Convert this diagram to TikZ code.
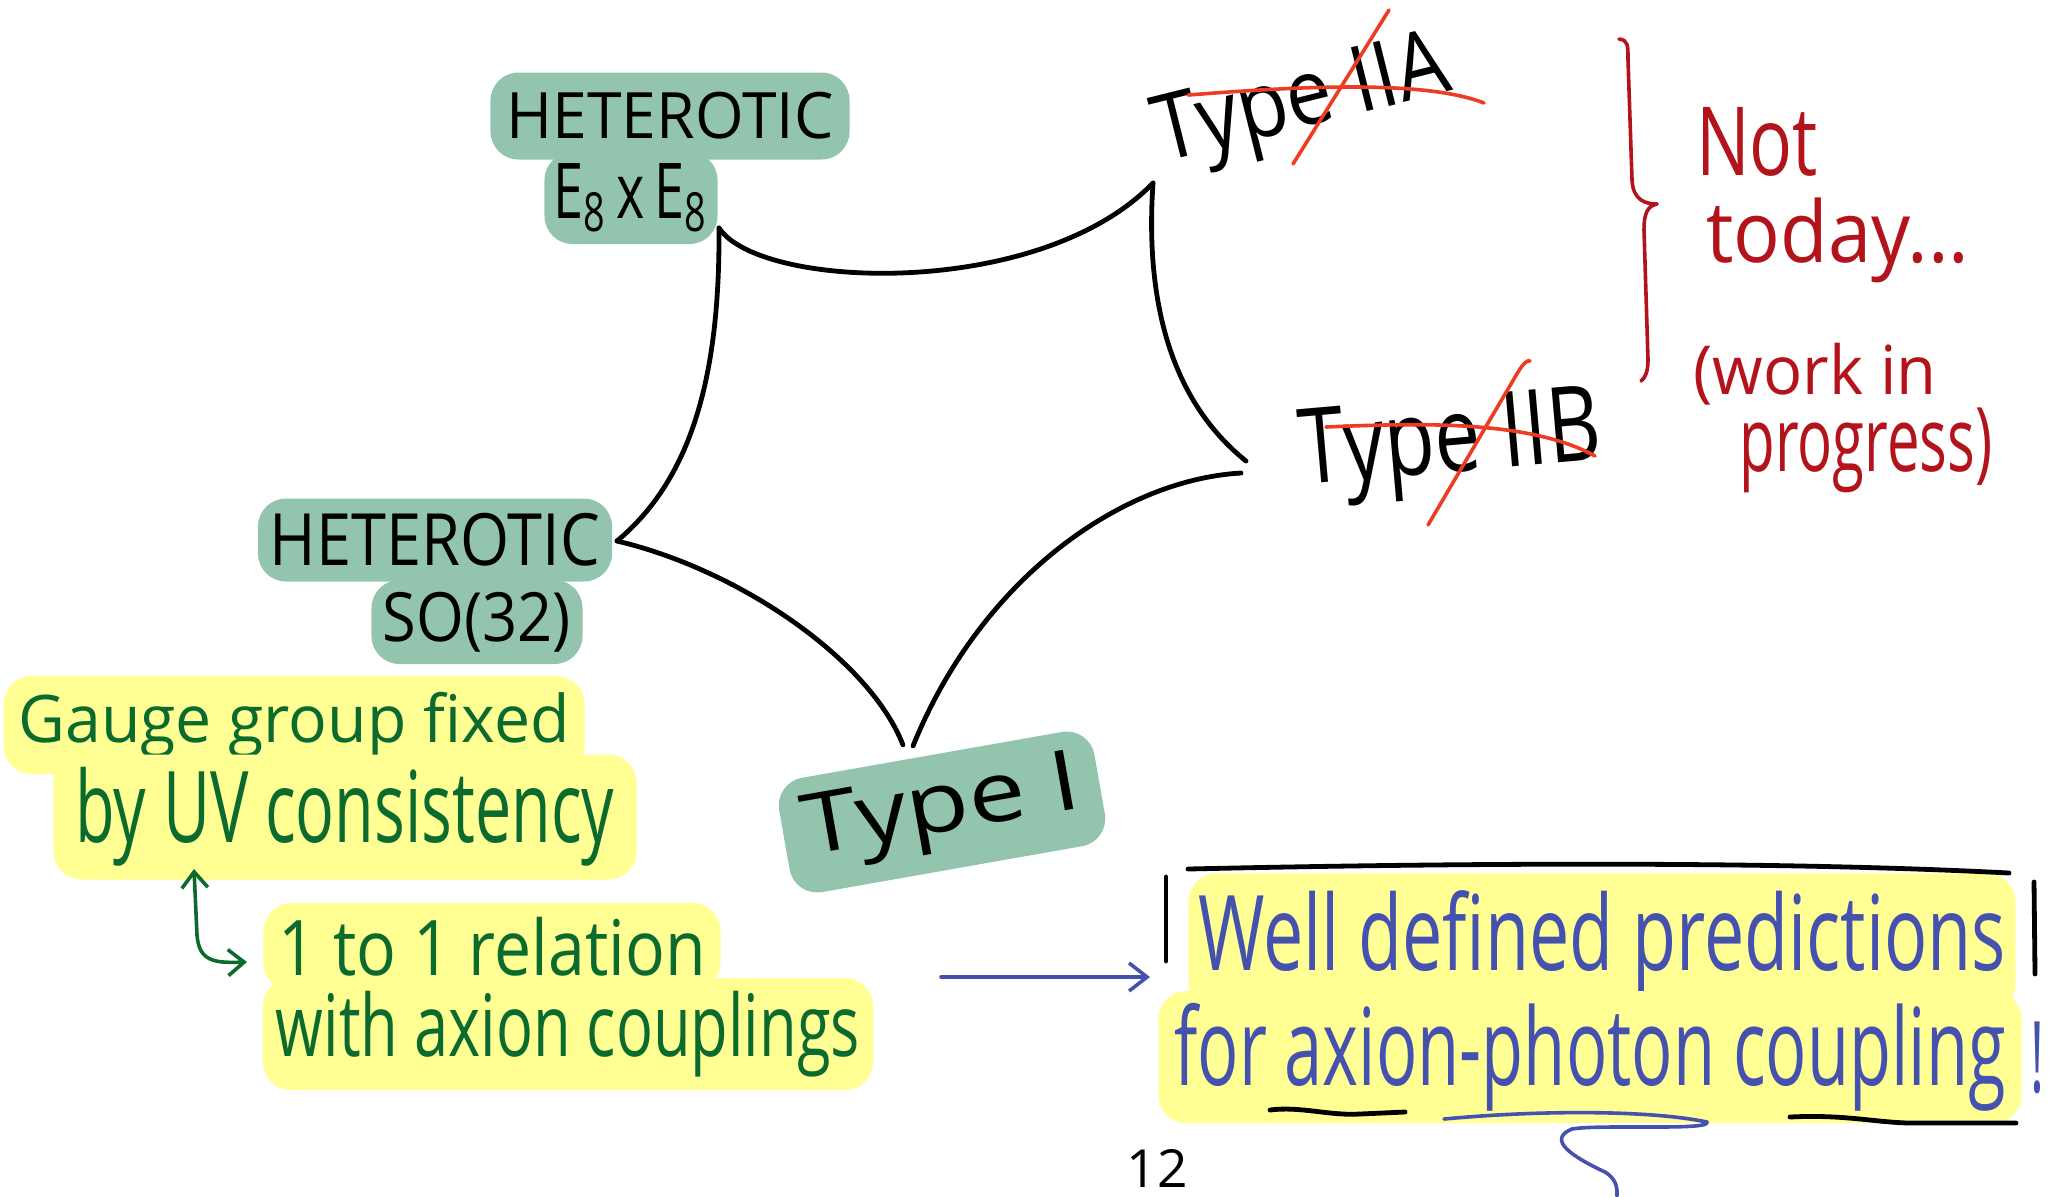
\documentclass[tikz,border=0pt]{standalone}
\usepackage{fontspec}
\setmainfont{Open Sans}
\usepackage{graphicx}
\usetikzlibrary{arrows.meta}
\definecolor{hlgreen}{HTML}{93C5AE}
\definecolor{hlyellow}{HTML}{FFFF94}
\definecolor{txtgreen}{HTML}{0B6B2E}
\definecolor{txtblue}{HTML}{4451AE}
\definecolor{txtred}{HTML}{B3131B}
\definecolor{strikered}{HTML}{EE3B24}
\newdimen\hpx \hpx=0.5pt
\newcommand{\fit}[3]{\resizebox*{#1\hpx}{#2\hpx}{#3}}
\begin{document}
\begin{tikzpicture}[x=0.5pt,y=-0.5pt,
  hg/.style={fill=hlgreen, rounded corners=14pt, inner sep=0pt},
  hy/.style={fill=hlyellow, rounded corners=14pt, inner sep=0pt},
  plain/.style={inner sep=0pt},
  ink/.style={line width=2.4pt, line cap=round, line join=round},
  strike/.style={strikered, line width=1.8pt, line cap=round},
  redpen/.style={txtred, line width=1.8pt, line cap=round, line join=round},
  bluepen/.style={txtblue, line width=1.8pt, line cap=round, line join=round},
  greenpen/.style={txtgreen, line width=1.8pt, line cap=round, line join=round},
  barb/.style={-{Straight Barb[length=9pt,width=14pt]}}]
\useasboundingbox (0,0) rectangle (2059,1196);

% ---- heterotic E8xE8
\node[hg, inner xsep=8pt, inner ysep=10pt] (hetA) at (670,116) {\fit{327}{47}{HETEROTIC}};
\node[hg, inner xsep=4.5pt, inner ysep=6pt] (e8) at (631,198) {\fit{155}{68}{E\textsubscript{8}\,x\,E\textsubscript{8}}};

% ---- heterotic SO(32)
\node[hg, inner xsep=6pt, inner ysep=7.5pt] (hetB) at (435,540) {\fit{330}{53}{HETEROTIC}};
\node[hg, inner xsep=5.75pt, inner ysep=6pt] (so) at (477,622) {\fit{188}{60}{SO(32)}};

% ---- Type I
\node[hg, inner xsep=10pt, inner ysep=9pt, rotate=10] (t1) at (942,812) {\fit{280}{80}{Type I}};

% ---- Type IIA / IIB (struck out)
\node[plain, rotate=14] (t2a) at (1303,105) {\fit{300}{88}{Type IIA}};
\node[plain, rotate=5] (t2b) at (1451,447) {\fit{302}{100}{Type IIB}};
\draw[strike] (1188,95) .. controls (1280,88) and (1420,78) .. (1484,103);
\draw[strike] (1293,164) -- (1389,10);
\draw[strike] (1326,427) .. controls (1420,423) and (1530,420) .. (1595,456);
\draw[strike] (1428,525) -- (1518,372) .. controls (1524,362) and (1528,360) .. (1530,361);

% ---- red brace and note
\coordinate (brTop) at (1619,39);
\coordinate (brTip) at (1657,204);
\coordinate (brBot) at (1641,381);
\draw[redpen] (brTop) .. controls (1628,40) and (1628,45) .. (1628,60)
  -- (1632,180) .. controls (1633,200) and (1645,204) .. (brTip)
  .. controls (1648,206) and (1644,212) .. (1644,230)
  -- (1648,360) .. controls (1648,372) and (1645,378) .. (brBot);
\node[plain, text=txtred] (nnot) at (1757,142) {\fit{122}{69}{Not}};
\node[plain, text=txtred] (ntoday) at (1838,240) {\fit{263}{85}{today...}};
\node[plain, text=txtred] (nwork) at (1815,374) {\fit{243}{62}{(work in}};
\node[plain, text=txtred] (nprog) at (1866,450) {\fit{253}{85}{progress)}};

% ---- star-shaped web of dualities
\coordinate (cE) at (719,228);
\coordinate (cA) at (1153,183);
\coordinate (cBa) at (1246,461);
\coordinate (cBb) at (1241,473);
\coordinate (cIa) at (913,746);
\coordinate (cIb) at (903,745);
\coordinate (cS) at (617,541);
\draw[ink] (cE) .. controls (760,290) and (1040,300) .. (cA);
\draw[ink] (cA) .. controls (1145,300) and (1170,400) .. (cBa);
\draw[ink] (cBb) .. controls (1120,480) and (980,580) .. (cIa);
\draw[ink] (cIb) .. controls (870,660) and (740,570) .. (cS);
\draw[ink] (cS) .. controls (690,480) and (720,380) .. (cE);

% ---- green notes
\node[hy, inner xsep=7.5pt, inner ysep=8pt, text=txtgreen] (g1) at (294,725) {\fit{551}{66}{Gauge group fixed}};
\node[hy, inner xsep=11pt, inner ysep=6.5pt, text=txtgreen] (g2) at (345,817) {\fit{539}{99}{by UV consistency}};
\node[hy, inner xsep=7.5pt, inner ysep=7.25pt, text=txtgreen] (r1) at (492,947) {\fit{427}{59}{1 to 1 relation}};
\node[hy, inner xsep=6.5pt, inner ysep=6.5pt, text=txtgreen] (r2) at (568,1034) {\fit{584}{86}{with axion couplings}};
\coordinate (gaTop) at (194,869);
\coordinate (gaEnd) at (247,962);
\draw[greenpen, {Straight Barb[length=8pt,width=13pt]}-{Straight Barb[length=8pt,width=13pt]}]
  (gaTop) -- (197,935) .. controls (199,962) and (215,963) .. (gaEnd);

% ---- blue arrow and boxed conclusion
\coordinate (baStart) at (941,977);
\coordinate (baEnd) at (1150,977);
\draw[bluepen, barb] (baStart) -- (baEnd);
\node[hy, inner xsep=4.75pt, inner ysep=8.5pt, text=txtblue] (w1) at (1602,943) {\fit{808}{105}{Well defined predictions}};
\node[hy, inner xsep=8pt, inner ysep=6pt, text=txtblue] (w2) at (1590,1057) {\fit{831}{108}{for axion-photon coupling}};
\node[plain, text=txtblue] (excl) at (2037,1058) {\fit{14}{72}{!}};
\coordinate (bxTL) at (1188,869);
\coordinate (bxTR) at (2009,873);
\draw[ink] (bxTL) .. controls (1500,862) and (1800,862) .. (bxTR);
\draw[ink] (1166,877) -- (1166,961);
\draw[ink] (2034,882) -- (2035,974);
\draw[ink] (1270,1110) .. controls (1300,1106) and (1330,1116) .. (1360,1114) -- (1405,1112);
\draw[ink] (1790,1117) .. controls (1850,1114) and (1880,1124) .. (1920,1123) -- (2016,1123);
\coordinate (sqA) at (1444,1119);
\coordinate (sqB) at (1617,1196);
\draw[bluepen] (sqA) .. controls (1540,1110) and (1650,1110) .. (1707,1122)
  .. controls (1712,1131) and (1600,1124) .. (1572,1129)
  .. controls (1545,1140) and (1575,1158) .. (1605,1172)
  .. controls (1618,1180) and (1617,1190) .. (sqB);

% ---- page number
\node[plain] (pg) at (1157,1168) {\fit{61}{38}{12}};
\end{tikzpicture}
\end{document}
